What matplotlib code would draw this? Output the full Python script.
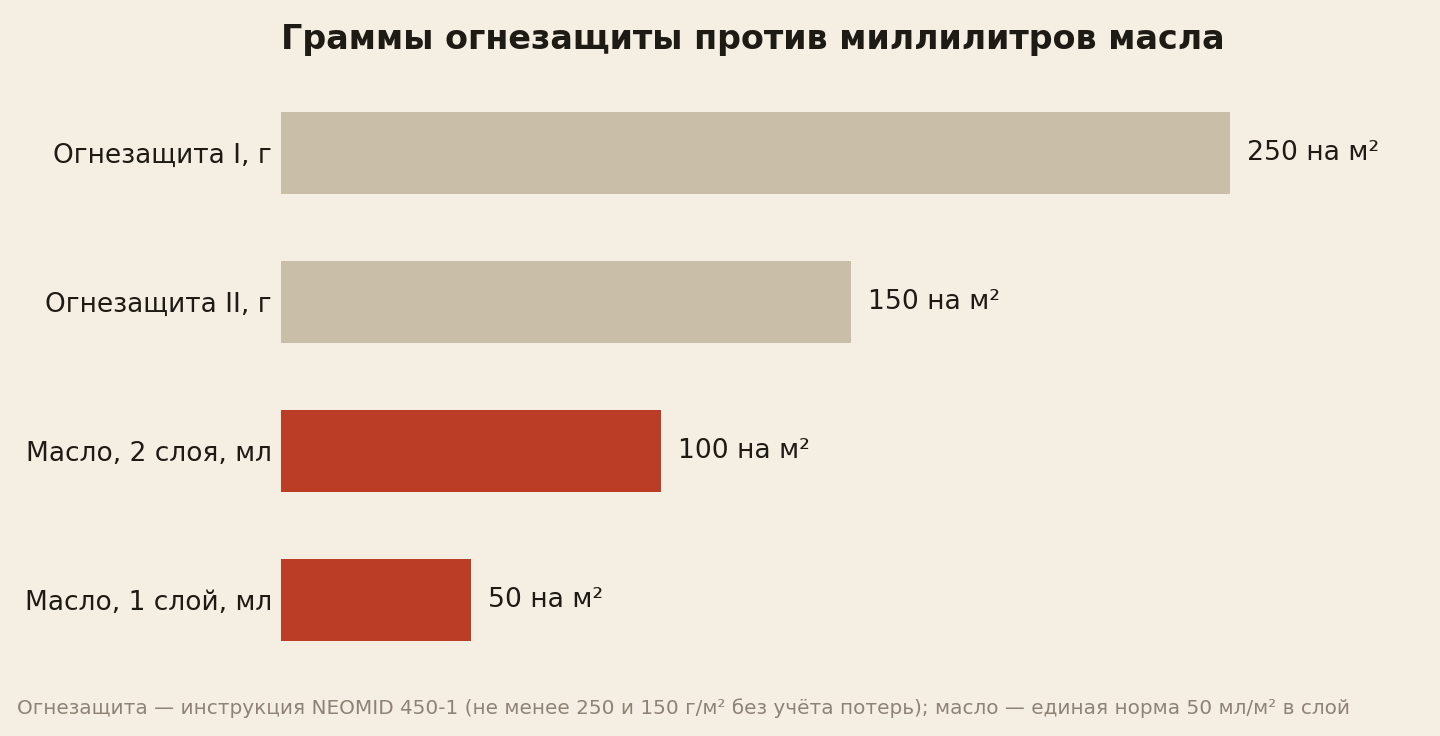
import numpy as np
import matplotlib
matplotlib.use("Agg")
import matplotlib.pyplot as plt

plt.rcParams["font.family"] = ["DejaVu Sans"]

categories = ["Огнезащита I, г", "Огнезащита II, г", "Масло, 2 слоя, мл", "Масло, 1 слой, мл"]
values = [250, 150, 100, 50]
value_labels = ["250 на м²", "150 на м²", "100 на м²", "50 на м²"]
bar_colors = ["#C9BFA8", "#C9BFA8", "#BC3D26", "#BC3D26"]

title = "Граммы огнезащиты против миллилитров масла"
note = ("Огнезащита — инструкция NEOMID 450-1 (не менее 250 и 150 г/м² без учёта потерь); "
        "масло — единая норма 50 мл/м² в слой")

bg = "#F5EFE3"
ink = "#1E1A14"

W, H = 1440, 736
fig = plt.figure(figsize=(W / 100, H / 100), dpi=100, facecolor=bg)
# axes: x from 281px to 1420px, rows spaced 149px
ax = fig.add_axes([281 / W, (H - 674.5) / H, 1139 / W, 596 / H], facecolor=bg)

y = np.arange(len(categories))
ax.barh(y, values, height=0.55, color=bar_colors)
ax.set_ylim(len(categories) - 0.5, -0.5)
ax.set_xlim(0, 300)

for yi, v, lab in zip(y, values, value_labels):
    ax.text(v + 4.5, yi, lab, va="center", ha="left", fontsize=19.2, color=ink)

ax.set_yticks(y)
ax.set_yticklabels(categories, fontsize=19, color=ink)
ax.tick_params(axis="y", length=0, pad=6.5)
ax.set_xticks([])
for s in ax.spines.values():
    s.set_visible(False)

fig.text(281 / W, 1 - 40 / H, title, ha="left", va="center",
         fontsize=24, fontweight="bold", color=ink)
fig.text(17 / W, 1 - 708 / H, note, ha="left", va="center",
         fontsize=14.4, color="#8C8374")

fig.savefig("out.png", dpi=100, facecolor=bg)
